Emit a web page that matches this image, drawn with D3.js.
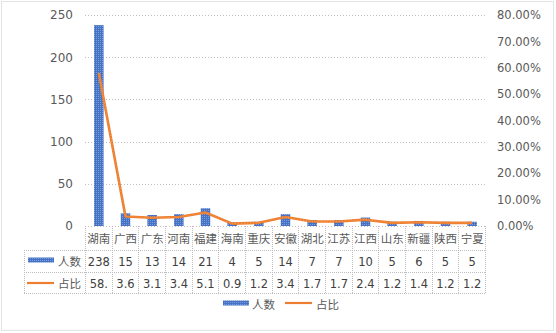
<!DOCTYPE html>
<html><head><meta charset="utf-8">
<script src="https://cdn.jsdelivr.net/npm/d3@7"></script>
<style>body{margin:0;background:#fff}svg{display:block}</style>
</head><body>
<script>
const categories = ["湖南","广西","广东","河南","福建","海南","重庆","安徽","湖北","江苏","江西","山东","新疆","陕西","宁夏"];
const people = [238,15,13,14,21,4,5,14,7,7,10,5,6,5,5];
const pct = [58.0,3.6,3.1,3.4,5.1,0.9,1.2,3.4,1.7,1.7,2.4,1.2,1.4,1.2,1.2];
const pctLabels = ["58.","3.6","3.1","3.4","5.1","0.9","1.2","3.4","1.7","1.7","2.4","1.2","1.4","1.2","1.2"];
const leftTicks = [0,50,100,150,200,250];
const rightTicks = [0,10,20,30,40,50,60,70,80];
const seriesNames = ["人数","占比"];

const W=556,H=333;
const svg=d3.select("body").append("svg").attr("width",W).attr("height",H);
const font='"DejaVu Sans","Noto Sans CJK SC",sans-serif';
const defs=svg.append("defs");
const pat=defs.append("pattern").attr("id","dots").attr("width",2).attr("height",2).attr("patternUnits","userSpaceOnUse");
pat.append("rect").attr("width",2).attr("height",2).attr("fill","#4472C4");
pat.append("rect").attr("width",1).attr("height",1).attr("fill","#7c9cdc");
defs.append("clipPath").attr("id","tclip").append("rect").attr("x",84).attr("y",226).attr("width",402).attr("height",70);

svg.append("rect").attr("x",1.5).attr("y",1.5).attr("width",552).attr("height",329)
  .attr("fill","none").attr("stroke","#c8c8c8").attr("stroke-dasharray","1,1");

const x=d3.scaleBand().domain(categories).range([85,485]);
const yL=d3.scaleLinear().domain([0,250]).range([226,15]);
const yR=d3.scaleLinear().domain([0,80]).range([226,15]);

// gridlines
svg.append("g").selectAll("line").data(leftTicks).join("line")
  .attr("x1",85).attr("x2",485).attr("y1",d=>Math.round(yL(d))+0.5).attr("y2",d=>Math.round(yL(d))+0.5)
  .attr("stroke","#c0c0c0").attr("stroke-dasharray","1,2");

// left axis
const gl=svg.append("g").attr("transform","translate(73,0)")
  .call(d3.axisLeft(yL).tickValues(leftTicks).tickSize(0).tickPadding(0));
gl.select(".domain").remove();
gl.selectAll("text").attr("font-family",font).attr("font-size",12).attr("fill","#595959");

// right axis
const gr=svg.append("g").attr("transform","translate(497,0)")
  .call(d3.axisRight(yR).tickValues(rightTicks).tickSize(0).tickPadding(0).tickFormat(d=>d.toFixed(2)+"%"));
gr.select(".domain").remove();
gr.selectAll("text").attr("font-family",font).attr("font-size",11.5).attr("fill","#595959");

// bars
const bw=9.5;
svg.append("g").selectAll("rect").data(people).join("rect")
  .attr("x",(d,i)=>x(categories[i])+x.bandwidth()/2-bw/2+0.5)
  .attr("y",d=>yL(d)).attr("width",bw).attr("height",d=>yL(0)-yL(d))
  .attr("fill","url(#dots)");

// line
const line=d3.line().x((d,i)=>x(categories[i])+x.bandwidth()/2+0.5).y(d=>yR(d));
svg.append("path").datum(pct).attr("d",line).attr("fill","none")
  .attr("stroke","#ED7D31").attr("stroke-width",2.6).attr("stroke-linejoin","round");
svg.append("path").datum(pct).attr("d",line).attr("fill","none")
  .attr("stroke","#f5a24f").attr("stroke-width",1).attr("stroke-dasharray","1,2");

// data table
const tg=svg.append("g");
const gridC="#bdbdbd";
const rowY=[226,250,272,293];
// horizontal lines
[250,272,293].forEach(yy=>{
  tg.append("line").attr("x1",24).attr("x2",485).attr("y1",yy+0.5).attr("y2",yy+0.5)
    .attr("stroke",gridC).attr("stroke-dasharray","1,1");
});
// vertical lines
const bounds=categories.map(c=>x(c)).concat([485]);
tg.selectAll("line.v").data(bounds).join("line").attr("class","v")
  .attr("x1",d=>Math.round(d)+0.5).attr("x2",d=>Math.round(d)+0.5).attr("y1",226).attr("y2",293)
  .attr("stroke",gridC).attr("stroke-dasharray","1,1");
tg.append("line").attr("x1",24.5).attr("x2",24.5).attr("y1",250).attr("y2",293)
  .attr("stroke",gridC).attr("stroke-dasharray","1,1");

const tt=tg.append("g").attr("clip-path","url(#tclip)");
tt.selectAll("text.c").data(categories).join("text").attr("class","c")
  .attr("x",d=>x(d)+x.bandwidth()/2+0.5).attr("y",243).attr("text-anchor","middle")
  .attr("font-family",font).attr("font-size",11.5).attr("fill","#595959").text(d=>d);
tt.selectAll("text.p").data(people).join("text").attr("class","p")
  .attr("x",(d,i)=>x(categories[i])+x.bandwidth()/2+0.5).attr("y",266).attr("text-anchor","middle")
  .attr("font-family",font).attr("font-size",11.5).attr("fill","#404040").text(d=>d);
tt.selectAll("text.q").data(pctLabels).join("text").attr("class","q")
  .attr("x",(d,i)=>x(categories[i])+x.bandwidth()/2+0.5).attr("y",288).attr("text-anchor","middle")
  .attr("font-family",font).attr("font-size",11.5).attr("fill","#404040").text(d=>d);

// row headers
tg.append("rect").attr("x",28).attr("y",257.5).attr("width",26).attr("height",5).attr("fill","url(#dots)");
tg.append("text").attr("x",81).attr("y",266).attr("text-anchor","end").attr("font-family",font)
  .attr("font-size",11.5).attr("fill","#595959").text(seriesNames[0]);
tg.append("line").attr("x1",27).attr("x2",54).attr("y1",283).attr("y2",283).attr("stroke","#ED7D31").attr("stroke-width",2.2);
tg.append("text").attr("x",81).attr("y",288).attr("text-anchor","end").attr("font-family",font)
  .attr("font-size",11.5).attr("fill","#595959").text(seriesNames[1]);

// legend
const lg=svg.append("g");
lg.append("rect").attr("x",223).attr("y",300.5).attr("width",26).attr("height",5).attr("fill","url(#dots)");
lg.append("text").attr("x",252).attr("y",309).attr("font-family",font).attr("font-size",11.5).attr("fill","#595959").text(seriesNames[0]);
lg.append("line").attr("x1",285).attr("x2",312).attr("y1",303).attr("y2",303).attr("stroke","#ED7D31").attr("stroke-width",2.2);
lg.append("text").attr("x",316).attr("y",309).attr("font-family",font).attr("font-size",11.5).attr("fill","#595959").text(seriesNames[1]);
</script>
</body></html>
